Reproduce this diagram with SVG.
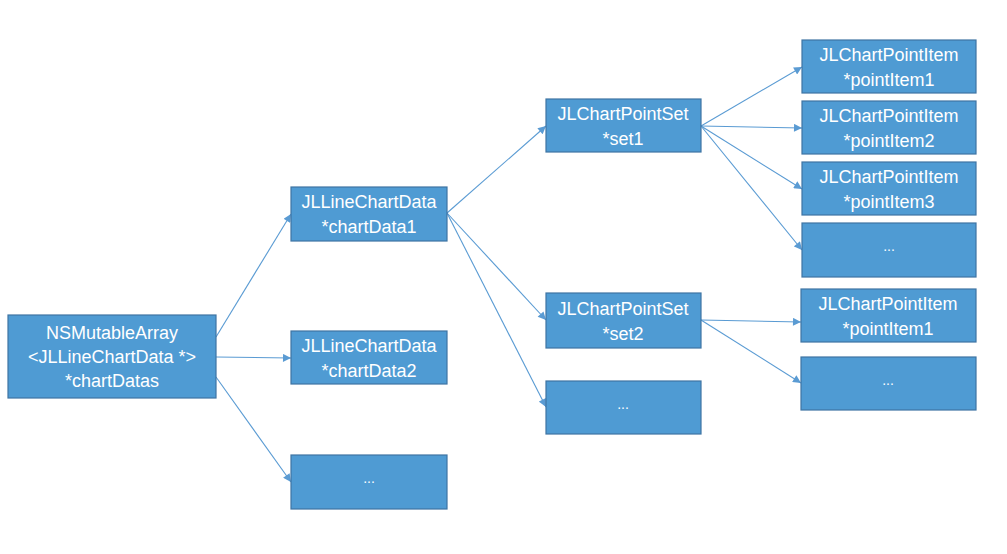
<svg xmlns="http://www.w3.org/2000/svg" width="1007" height="554" viewBox="0 0 1007 554">
<style>
.box{fill:#4f9bd3;stroke:#3f74a3;stroke-width:1.2}
.t{font-family:"Liberation Sans",Arial,sans-serif;font-size:18px;fill:#fff;text-anchor:middle}
.d{font-family:"Liberation Sans",Arial,sans-serif;font-size:14px;fill:#fff;text-anchor:middle}
.c{stroke:#5a9bd3;stroke-width:1.1;fill:none;marker-end:url(#ah)}
</style>
<defs>
<marker id="ah" viewBox="0 0 10 10" refX="10" refY="5" markerWidth="9" markerHeight="8" markerUnits="userSpaceOnUse" orient="auto">
<path d="M0,0 L10,5 L0,10 z" fill="#5a9bd3"/>
</marker>
</defs>
<rect width="1007" height="554" fill="#fff"/>
<g id="connectors">
<line class="c" x1="216" y1="337" x2="291" y2="214"/>
<line class="c" x1="216" y1="357" x2="291" y2="358"/>
<line class="c" x1="216" y1="377" x2="291" y2="482"/>
<line class="c" x1="447" y1="213" x2="546" y2="126"/>
<line class="c" x1="447" y1="213" x2="546" y2="320"/>
<line class="c" x1="447" y1="213" x2="546" y2="407"/>
<line class="c" x1="701" y1="126" x2="802" y2="67"/>
<line class="c" x1="701" y1="126" x2="802" y2="128"/>
<line class="c" x1="701" y1="126" x2="802" y2="189"/>
<line class="c" x1="701" y1="126" x2="802" y2="250"/>
<line class="c" x1="701" y1="320" x2="801" y2="322"/>
<line class="c" x1="701" y1="320" x2="801" y2="383"/>
</g>
<g id="root">
<rect class="box" x="8" y="315" width="208" height="83"/>
<text class="t" x="112" y="339">NSMutableArray</text>
<text class="t" x="112" y="363">&lt;JLLineChartData *&gt;</text>
<text class="t" x="112" y="387">*chartDatas</text>
</g>
<g id="chartData1">
<rect class="box" x="291" y="187" width="156" height="54"/>
<text class="t" x="369" y="208">JLLineChartData</text>
<text class="t" x="369" y="233">*chartData1</text>
</g>
<g id="chartData2">
<rect class="box" x="291" y="331" width="156" height="53"/>
<text class="t" x="369" y="352">JLLineChartData</text>
<text class="t" x="369" y="377">*chartData2</text>
</g>
<g id="chartDataMore">
<rect class="box" x="291" y="455" width="156" height="54"/>
<text class="d" x="369" y="483">...</text>
</g>
<g id="set1">
<rect class="box" x="546" y="99" width="155" height="53"/>
<text class="t" x="623" y="120">JLChartPointSet</text>
<text class="t" x="623" y="145">*set1</text>
</g>
<g id="set2">
<rect class="box" x="546" y="293" width="155" height="55"/>
<text class="t" x="623" y="315">JLChartPointSet</text>
<text class="t" x="623" y="340">*set2</text>
</g>
<g id="setMore">
<rect class="box" x="546" y="381" width="155" height="53"/>
<text class="d" x="623" y="409">...</text>
</g>
<g id="s1item1">
<rect class="box" x="802" y="40" width="174" height="53"/>
<text class="t" x="889" y="61">JLChartPointItem</text>
<text class="t" x="889" y="86">*pointItem1</text>
</g>
<g id="s1item2">
<rect class="box" x="802" y="101" width="174" height="53"/>
<text class="t" x="889" y="122">JLChartPointItem</text>
<text class="t" x="889" y="147">*pointItem2</text>
</g>
<g id="s1item3">
<rect class="box" x="802" y="162" width="174" height="53"/>
<text class="t" x="889" y="183">JLChartPointItem</text>
<text class="t" x="889" y="208">*pointItem3</text>
</g>
<g id="s1more">
<rect class="box" x="802" y="223" width="174" height="54"/>
<text class="d" x="889" y="251">...</text>
</g>
<g id="s2item1">
<rect class="box" x="801" y="289" width="175" height="53"/>
<text class="t" x="888" y="310">JLChartPointItem</text>
<text class="t" x="888" y="335">*pointItem1</text>
</g>
<g id="s2more">
<rect class="box" x="801" y="357" width="175" height="53"/>
<text class="d" x="888" y="385">...</text>
</g>
</svg>
